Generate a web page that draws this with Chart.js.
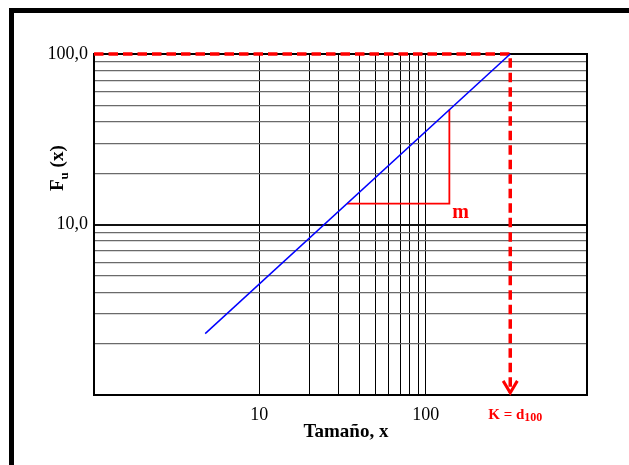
<!DOCTYPE html>
<html>
<head>
<meta charset="utf-8">
<script src="https://cdn.jsdelivr.net/npm/chart.js@4"></script>
<style>
  html, body { margin: 0; padding: 0; background: #fff; overflow: hidden; }
  #wrap { position: relative; width: 629px; height: 465px; }
  #frame { position: absolute; left: 9px; top: 8px; width: 700px; height: 600px; border: 5px solid #000; box-sizing: border-box; }
  canvas { position: absolute; left: 0; top: 0; }
</style>
</head>
<body>
<div id="wrap">
  <div id="frame"></div>
  <canvas id="chart" width="629" height="465"></canvas>
</div>
<script>
// fitted line Fu(x) on log-log axes
const fitX = [4.74, 321];
const fitY = [2.29, 100];
// slope triangle (m)
const slopeX = [33.7, 138.4, 138.4];
const slopeY = [13.27, 13.27, 47.1];
// dashed guide to K = d100
const kLineX = [1.02, 321, 321];
const kLineY = [100, 100, 1.03];
const arrowX = [291, 321, 354];
const arrowY = [1.21, 1.03, 1.21];

const xLabels = { 10: '10', 100: '100' };
const yLabels = { 10: '10,0', 100: '100,0' };

const pts = (xs, ys) => xs.map((x, i) => ({ x: x, y: ys[i] }));

const serif = 'Liberation Serif, Times New Roman, serif';

// only 1..9 x 10^n get a grid line
const isWhole = (v) => {
    const s = v / Math.pow(10, Math.floor(Math.log10(v) + 1e-9));
    return Math.abs(s - Math.round(s)) < 1e-6;
};

// plot frame + texts
const extras = {
    id: 'extras',
    beforeDatasetsDraw(chart) {
        const ctx = chart.ctx;
        const a = chart.chartArea;
        ctx.save();
        ctx.strokeStyle = '#000';
        ctx.lineWidth = 2;
        ctx.strokeRect(a.left, a.top, a.right - a.left, a.bottom - a.top);
        ctx.restore();
    },
    afterDraw(chart) {
        const ctx = chart.ctx;
        const xs = chart.scales.x;
        const ys = chart.scales.y;
        ctx.save();

        // y title: F_u (x), rotated
        ctx.translate(63, 191);
        ctx.rotate(-Math.PI / 2);
        ctx.fillStyle = '#000';
        ctx.textBaseline = 'alphabetic';
        ctx.font = 'bold 19px ' + serif;
        ctx.fillText('F', 0, 0);
        let w = ctx.measureText('F').width;
        ctx.font = 'bold 13px ' + serif;
        ctx.fillText('u', w, 5);
        w += ctx.measureText('u').width;
        ctx.font = 'bold 19px ' + serif;
        ctx.fillText(' (x)', w, 0);
        ctx.setTransform(1, 0, 0, 1, 0, 0);

        // x title
        ctx.textAlign = 'center';
        ctx.font = 'bold 19px ' + serif;
        ctx.fillText('Tamaño, x', 346, 437);

        // m label next to the triangle corner
        ctx.textAlign = 'left';
        ctx.fillStyle = '#ff0000';
        ctx.font = 'bold 20px ' + serif;
        const cx = xs.getPixelForValue(slopeX[1]);
        const cy = ys.getPixelForValue(slopeY[1]);
        ctx.fillText('m', cx + 3, cy + 14);

        // K = d100 under the dashed line
        const kx = xs.getPixelForValue(kLineX[1]);
        ctx.font = 'bold 15px ' + serif;
        ctx.fillText('K = d', kx - 22, 419);
        const kw = ctx.measureText('K = d').width;
        ctx.font = 'bold 12px ' + serif;
        ctx.fillText('100', kx - 22 + kw, 421);
        ctx.restore();
    }
};

new Chart(document.getElementById('chart'), {
    type: 'line',
    data: {
        datasets: [
            { data: pts(fitX, fitY), borderColor: '#0000ff', borderWidth: 1.5, pointRadius: 0 },
            { data: pts(slopeX, slopeY), borderColor: '#ff0000', borderWidth: 1.8, pointRadius: 0 },
            { data: pts(kLineX, kLineY), borderColor: '#ff0000', borderWidth: 3.5, borderDash: [9.5, 5], pointRadius: 0, clip: false },
            { data: pts(arrowX, arrowY), borderColor: '#ff0000', borderWidth: 3, pointRadius: 0, clip: false }
        ]
    },
    options: {
        responsive: false,
        animation: false,
        layout: { padding: { left: 0, top: 54, right: 42, bottom: 0 } },
        plugins: { legend: { display: false }, tooltip: { enabled: false } },
        scales: {
            x: {
                type: 'logarithmic',
                min: 1.02,
                max: 927,
                afterFit(scale) { scale.height = 70; },
                border: { display: false },
                grid: {
                    drawTicks: false,
                    lineWidth: 1,
                    color: (c) => (c.tick && c.tick.value >= 10 && c.tick.value <= 100 && isWhole(c.tick.value)) ? '#000' : 'rgba(0,0,0,0)'
                },
                ticks: {
                    autoSkip: false,
                    maxRotation: 0,
                    padding: 9,
                    color: '#000',
                    font: { family: serif, size: 18 },
                    callback: (v) => xLabels[v] || ''
                }
            },
            y: {
                type: 'logarithmic',
                min: 1,
                max: 100,
                afterFit(scale) { scale.width = 94; },
                border: { display: false },
                grid: {
                    drawTicks: false,
                    lineWidth: (c) => (c.tick && c.tick.value === 10) ? 2 : 1.3,
                    color: (c) => {
                        if (!c.tick || c.tick.value === 1 || !isWhole(c.tick.value)) return 'rgba(0,0,0,0)';
                        return c.tick.value === 10 ? '#111' : '#6a6a6a';
                    }
                },
                ticks: {
                    autoSkip: false,
                    padding: 6,
                    color: '#000',
                    font: { family: serif, size: 18 },
                    callback: (v) => yLabels[v] || ''
                }
            }
        }
    },
    plugins: [extras]
});
</script>
</body>
</html>
